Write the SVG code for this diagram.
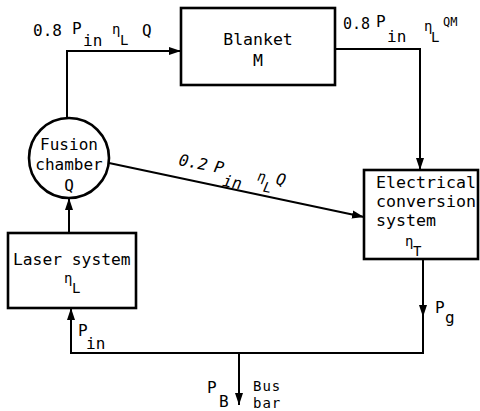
<svg xmlns="http://www.w3.org/2000/svg" width="480" height="411" viewBox="0 0 480 411">
<defs>
<style>
.box{fill:none;stroke:#000;stroke-width:2.6}
.ln{fill:none;stroke:#000;stroke-width:2}
text{font-family:"DejaVu Sans Mono","Liberation Mono",monospace;font-size:16px;fill:#000}
.sm{font-size:14px}
.it{font-style:italic}
.bb{font-size:14px;letter-spacing:1px}
</style>
<marker id="ah" viewBox="0 0 12 8" refX="12" refY="4" markerUnits="userSpaceOnUse" markerWidth="12" markerHeight="9" orient="auto">
<path d="M0,0 L12,4 L0,8 z" fill="#000"/>
</marker>
</defs>
<rect width="480" height="411" fill="#fff"/>
<g id="connectors">
<path class="ln" d="M69,233 V198" marker-end="url(#ah)"/>
<path class="ln" d="M67,118 V51 H181" marker-end="url(#ah)"/>
<path class="ln" d="M335,49 H420 V170" marker-end="url(#ah)"/>
<path class="ln" d="M109,163 L364,217" marker-end="url(#ah)"/>
<path class="ln" d="M423,259 V317" marker-end="url(#ah)"/>
<path class="ln" d="M423,316 V353 H71 V308" marker-end="url(#ah)"/>
<path class="ln" d="M239,353 V405" marker-end="url(#ah)"/>
</g>
<g id="blanket">
<rect class="box" x="181" y="8" width="154" height="77"/>
<text x="258" y="45" text-anchor="middle" style="font-size:16.5px">Blanket</text>
<text x="258" y="66" text-anchor="middle" style="font-size:16.5px">M</text>
</g>
<g id="fusion">
<circle class="box" cx="69" cy="158" r="40"/>
<text x="69" y="150" text-anchor="middle">Fusion</text>
<text x="69" y="170" text-anchor="middle">chamber</text>
<text x="69" y="191" text-anchor="middle">Q</text>
</g>
<g id="laser">
<rect class="box" x="8" y="233" width="128" height="75"/>
<text x="13" y="265" style="font-size:16.3px">Laser system</text>
<text x="64" y="283" class="sm">η</text>
<text x="72" y="293" class="sm">L</text>
</g>
<g id="electrical">
<rect class="box" x="364" y="170" width="114" height="89"/>
<text x="376" y="188" style="font-size:16.6px">Electrical</text>
<text x="376" y="207" style="font-size:16.6px">conversion</text>
<text x="376" y="226" style="font-size:16.6px">system</text>
<text x="405" y="246" class="sm">η</text>
<text x="413" y="256" class="sm">T</text>
</g>
<g id="labels">
<text x="33" y="36">0.8</text>
<text x="72" y="34">P</text>
<text x="83" y="46">in</text>
<text x="112" y="34" class="sm">η</text>
<text x="120" y="45" class="sm">L</text>
<text x="142" y="36">Q</text>
<text x="343" y="29" style="font-size:15px">0.8</text>
<text x="376" y="27">P</text>
<text x="387" y="42">in</text>
<text x="424" y="31" class="sm">η</text>
<text x="431" y="42" class="sm">L</text>
<text x="443" y="26" style="font-size:12px">QM</text>
<g transform="translate(178,165) rotate(11)">
<text x="0" y="0" class="it">0.2</text>
<text x="36" y="0" class="it">P</text>
<text x="47" y="12" class="it">in</text>
<text x="80" y="0" class="sm it">η</text>
<text x="88" y="10" class="sm it">L</text>
<text x="99" y="0" class="it">Q</text>
</g>
<text x="78" y="336">P</text>
<text x="86" y="349">in</text>
<text x="435" y="313">P</text>
<text x="445" y="323">g</text>
<text x="207" y="393">P</text>
<text x="219" y="407">B</text>
<text x="253" y="391" class="bb">Bus</text>
<text x="253" y="408" class="bb">bar</text>
</g>
</svg>
